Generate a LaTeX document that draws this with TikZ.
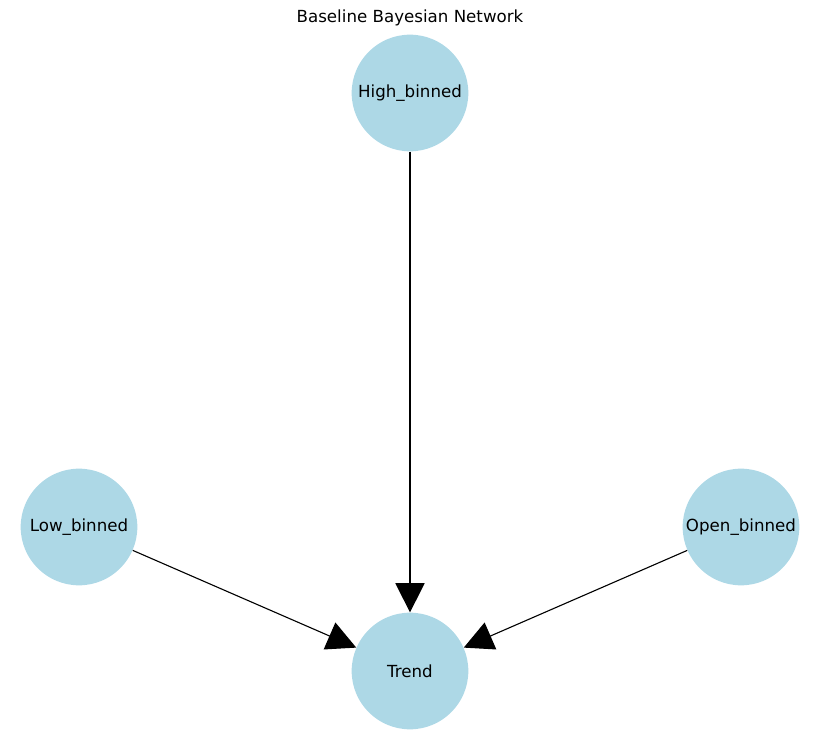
\documentclass[tikz,border=0pt]{standalone}
\usepackage{fontspec}
\setmainfont{DejaVu Sans}
\usetikzlibrary{arrows.meta}

\definecolor{lightblue}{HTML}{ADD8E6}

\begin{document}
\begin{tikzpicture}[x=0.72pt,y=-0.72pt,
  bnnode/.style={circle,fill=lightblue,minimum size=84pt,inner sep=0pt,font=\fontsize{12}{14}\selectfont},
  bnedge/.style={line width=0.8pt,-{Triangle[length=21pt,width=21pt]}}]
\useasboundingbox (0,0) rectangle (819,742);
\node[font=\fontsize{12}{14}\selectfont] (title) at (410,18) {Baseline Bayesian Network};
\node[bnnode] (high) at (410,93) {High\_binned};
\node[bnnode] (low) at (79,527) {Low\_binned};
\node[bnnode] (open) at (741,527) {Open\_binned};
\node[bnnode] (trend) at (410,671) {Trend};
\draw[bnedge] (high) -- (trend);
\draw[bnedge] (low) -- (trend);
\draw[bnedge] (open) -- (trend);
\end{tikzpicture}
\end{document}
